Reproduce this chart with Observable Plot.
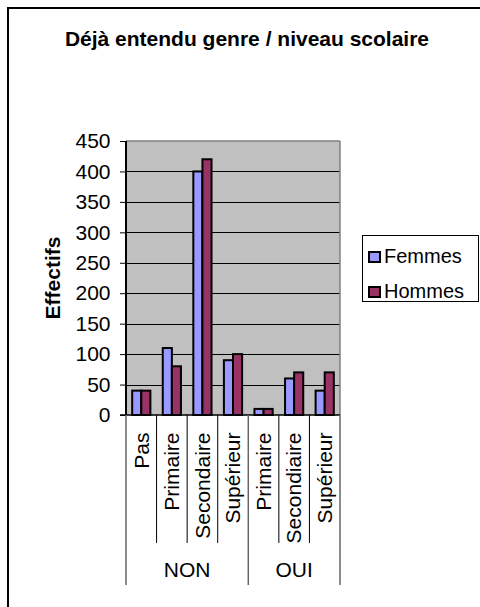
<!DOCTYPE html>
<html>
<head>
<meta charset="utf-8">
<script src="https://cdn.jsdelivr.net/npm/d3@7"></script>
<script src="https://cdn.jsdelivr.net/npm/@observablehq/plot@0.6"></script>
<style>
  html, body { margin: 0; padding: 0; background: #fff; }
  #page {
    position: relative; width: 480px; height: 607px; overflow: hidden;
    font-family: "Liberation Sans", Arial, sans-serif; color: #000;
  }
  #frame {
    position: absolute; left: 7px; top: 7px; width: 520px; height: 640px;
    border-left: 2px solid #000; border-top: 2px solid #000; box-sizing: border-box;
  }
  #title {
    position: absolute; left: 0; top: 29px; width: 494px; text-align: center;
    font-weight: bold; font-size: 21px; line-height: 20px; white-space: nowrap;
  }
  #chart { position: absolute; left: 0; top: 0; }
  #legend {
    position: absolute; left: 362px; top: 235px; width: 117px; height: 67px;
    border: 1px solid #000; box-sizing: border-box; background: #fff;
    font-size: 20px;
  }
  .item { position: absolute; left: 5px; height: 20px; line-height: 20px; white-space: nowrap; }
  .swatch {
    display: inline-block; width: 13px; height: 12px; border: 2px solid #000;
    box-sizing: border-box; margin-right: 3px; vertical-align: 0px;
  }
</style>
</head>
<body>
<div id="page">
  <div id="frame"></div>
  <div id="title">Déjà entendu genre / niveau scolaire</div>
  <div id="chart"></div>
  <div id="legend"></div>
</div>
<script>
// Response groups and education levels, one entry per column
const groups = ["NON", "NON", "NON", "NON", "OUI", "OUI", "OUI"];
const levels = ["Pas", "Primaire", "Secondaire", "Supérieur", "Primaire", "Secondiaire", "Supérieur"];
// Counts per column
const femmes = [40, 110, 400, 90, 10, 60, 40];
const hommes = [40, 80, 420, 100, 10, 70, 70];
const series = ["Femmes", "Hommes"];
const colors = ["#9999FF", "#993366"];
const yTicks = [0, 50, 100, 150, 200, 250, 300, 350, 400, 450];
const yLabel = "Effectifs";

const columns = levels.map((_, i) => i);
const rows = columns.flatMap(i => [
  {col: i, sexe: series[0], n: femmes[i]},
  {col: i, sexe: series[1], n: hommes[i]}
]);

const plot = Plot.plot({
  width: 480,
  height: 607,
  marginLeft: 126,
  marginRight: 140,
  marginTop: 141,
  marginBottom: 192,
  style: {
    fontFamily: "'Liberation Sans', Arial, sans-serif",
    fontSize: "21px",
    background: "transparent",
    color: "#000",
    overflow: "visible"
  },
  facet: {data: rows, x: "col"},
  fx: {
    domain: columns, padding: 0, round: false, label: null,
    tickFormat: i => levels[i], tickRotate: -90, tickSize: 0, tickPadding: 17
  },
  x: {domain: series, paddingInner: 0, paddingOuter: 0.68, round: false, axis: null},
  y: {domain: [0, 450], ticks: yTicks, tickSize: 6, tickPadding: 10, label: null},
  color: {domain: series, range: colors},
  marks: [
    Plot.barY(rows, {x: "sexe", y: "n", fill: "sexe", stroke: "#000", strokeWidth: 2})
  ]
});
document.getElementById("chart").appendChild(plot);

// Plot-area background, grid and borders, column separators and group labels,
// all placed with the chart's own scales
const svgNode = plot.tagName.toLowerCase() === "svg" ? plot : plot.querySelector("svg");
const svg = d3.select(svgNode);
const fxs = plot.scale("fx");
const ys = plot.scale("y");
const band = d3.scaleBand(fxs.domain, fxs.range).paddingInner(0).paddingOuter(0);
const yPos = d3.scaleLinear(ys.domain, ys.range);
const step = band.step();
const left = band(columns[0]);
const right = band(columns[columns.length - 1]) + step;
const y0 = yPos(0), yTop = yPos(450);

// grey plot area and horizontal grid, beneath the bars
const under = document.createElementNS("http://www.w3.org/2000/svg", "g");
svgNode.insertBefore(under, svgNode.querySelector("g"));
const ug = d3.select(under);
ug.append("rect")
  .attr("x", left).attr("y", yTop)
  .attr("width", right - left).attr("height", y0 - yTop)
  .attr("fill", "#C0C0C0");
ug.selectAll("line.grid")
  .data(yTicks.slice(1, -1))
  .join("line")
  .attr("class", "grid")
  .attr("x1", left).attr("x2", right)
  .attr("y1", d => Math.round(yPos(d)) + 0.5).attr("y2", d => Math.round(yPos(d)) + 0.5)
  .attr("stroke", "#000").attr("stroke-width", 1);

const g = svg.append("g");
g.append("line").attr("x1", left).attr("x2", right).attr("y1", yTop).attr("y2", yTop)
  .attr("stroke", "#808080").attr("stroke-width", 1.5);
g.append("line").attr("x1", right).attr("x2", right).attr("y1", yTop).attr("y2", y0)
  .attr("stroke", "#808080").attr("stroke-width", 1.5);
g.append("line").attr("x1", left - 6).attr("x2", right).attr("y1", y0).attr("y2", y0)
  .attr("stroke", "#000").attr("stroke-width", 1.5);
g.append("line").attr("x1", left).attr("x2", left).attr("y1", yTop).attr("y2", y0)
  .attr("stroke", "#000").attr("stroke-width", 2);

// separators below the axis: short ones between levels, long ones between groups
for (let i = 0; i <= columns.length; i++) {
  const x = i < columns.length ? band(columns[i]) : right;
  const boundary = i === 0 || i === columns.length || groups[i] !== groups[i - 1];
  g.append("line")
    .attr("x1", x).attr("x2", x)
    .attr("y1", y0).attr("y2", y0 + (boundary ? 170 : 128))
    .attr("stroke", boundary ? "#666" : "#000")
    .attr("stroke-width", boundary ? 1.5 : 1);
}

const groupNames = Array.from(new Set(groups));
groupNames.forEach(name => {
  const idx = columns.filter(i => groups[i] === name);
  const x0 = band(idx[0]), x1 = band(idx[idx.length - 1]) + step;
  g.append("text")
    .attr("x", (x0 + x1) / 2).attr("y", y0 + 162)
    .attr("text-anchor", "middle")
    .attr("font-size", 21)
    .text(name);
});

g.append("text")
  .attr("transform", `translate(60,${(y0 + yTop) / 2}) rotate(-90)`)
  .attr("text-anchor", "middle")
  .attr("font-size", 21)
  .attr("font-weight", "bold")
  .text(yLabel);

// legend
const legend = d3.select("#legend");
series.forEach((s, i) => {
  const item = legend.append("div").attr("class", "item").style("top", `${10 + i * 35}px`);
  item.append("span").attr("class", "swatch").style("background", colors[i]);
  item.append("span").text(s);
});
</script>
</body>
</html>
